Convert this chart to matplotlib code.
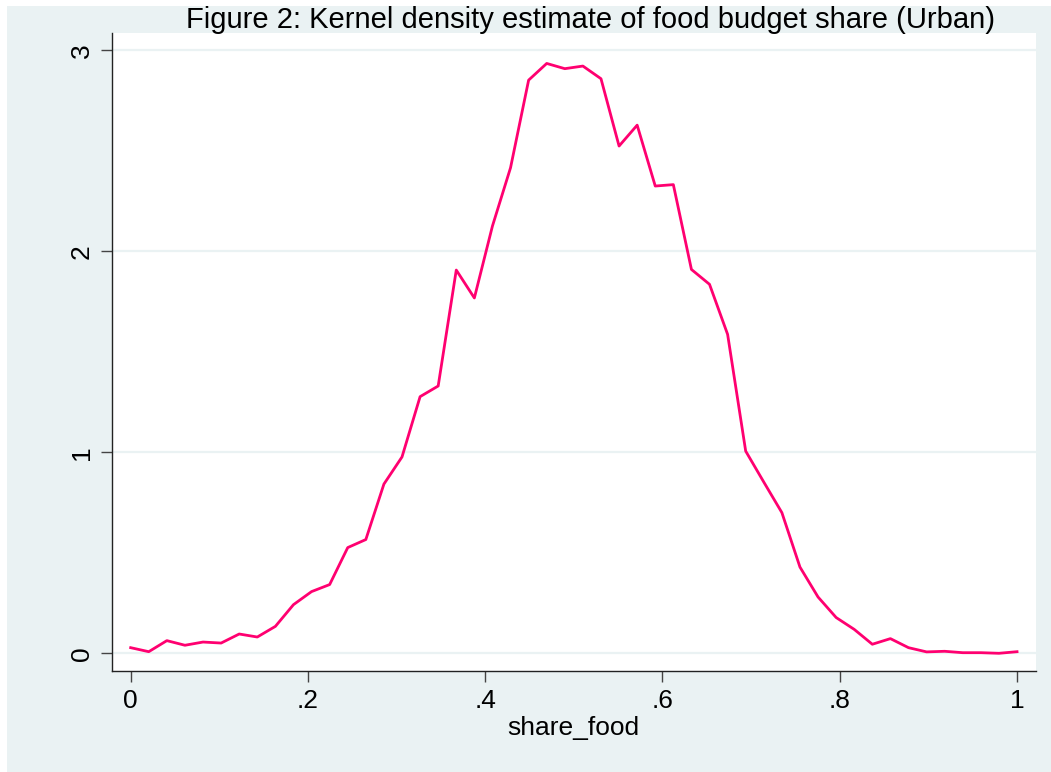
import matplotlib
matplotlib.use("Agg")
import matplotlib.pyplot as plt
import numpy as np

plt.rcParams['font.family'] = ['Liberation Sans', 'DejaVu Sans']

# kdensity evaluation grid (50 points on [0, 1]) and density values
share_food = np.linspace(0, 1, 50)
density = [0.028, 0.008, 0.063, 0.040, 0.056, 0.051, 0.096, 0.081, 0.134, 0.242,
           0.307, 0.342, 0.526, 0.566, 0.842, 0.977, 1.277, 1.330, 1.907, 1.768,
           2.126, 2.416, 2.852, 2.935, 2.909, 2.922, 2.859, 2.524, 2.628, 2.325,
           2.332, 1.910, 1.836, 1.587, 1.006, 0.852, 0.700, 0.429, 0.280, 0.178,
           0.119, 0.045, 0.073, 0.028, 0.007, 0.010, 0.003, 0.003, 0.000, 0.008]

x_ticks = [0, 0.2, 0.4, 0.6, 0.8, 1.0]
x_ticklabels = ["0", ".2", ".4", ".6", ".8", "1"]
y_ticks = [0, 1, 2, 3]
y_ticklabels = ["0", "1", "2", "3"]

W, H = 1051, 772
bg = "#EAF2F3"

fig = plt.figure(figsize=(W / 100, H / 100), dpi=100, facecolor="white")
# Stata-style outer background (thin white strip at top/left)
fig.add_artist(plt.Rectangle((6.5 / W, 0), 1, 1 - 6 / H, transform=fig.transFigure,
                             facecolor=bg, edgecolor="none", zorder=-10))

left, right, top, bottom = 111.7, 1036, 33.3, 670.7
ax = fig.add_axes([left / W, 1 - bottom / H, (right - left) / W, (bottom - top) / H])
ax.set_zorder(1)
ax.set_facecolor("white")

ax.plot(share_food, density, color="#FF0070", linewidth=2.0, zorder=3)

ax.set_xlim(-0.0214, 1.0214)
ax.set_ylim(-0.0866, 3.085)

ax.set_xticks(x_ticks)
ax.set_xticklabels(x_ticklabels)
ax.set_yticks(y_ticks)
ax.set_yticklabels(y_ticklabels, rotation=90, va="center")

ax.yaxis.grid(True, color=bg, linewidth=1.6)
ax.set_axisbelow(True)

for s in ["top", "right"]:
    ax.spines[s].set_visible(False)
for s in ["left", "bottom"]:
    ax.spines[s].set_color("#222222")
    ax.spines[s].set_linewidth(1.0)

ax.tick_params(axis="both", direction="out", length=8, width=1.0, color="#444444",
               labelsize=19, pad=5)

ax.set_xlabel("share_food", fontsize=19, labelpad=2)

title = fig.text(590 / W, 1 - 20 / H, "Figure 2: Kernel density estimate of food budget share (Urban)",
                 ha="center", va="center", fontsize=21)
title.set_zorder(5)

fig.savefig("out.png", dpi=100, facecolor=fig.get_facecolor())
